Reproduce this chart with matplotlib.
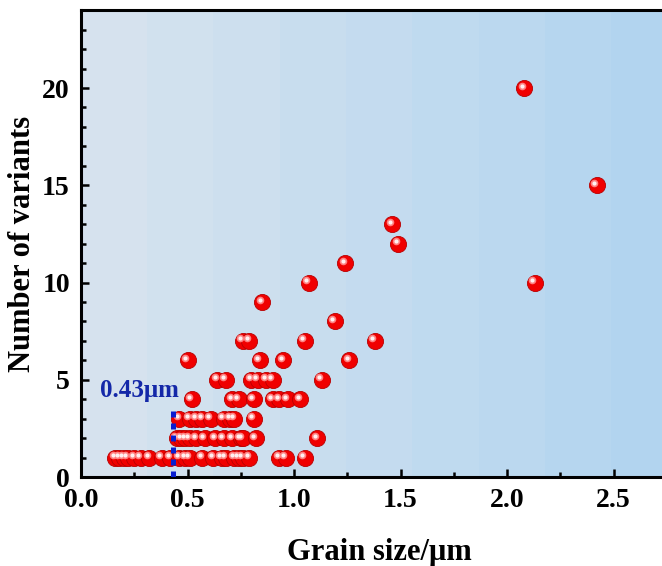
import numpy as np
import matplotlib
matplotlib.use('Agg')
import matplotlib.pyplot as plt
from matplotlib.ticker import MultipleLocator, FixedLocator, FormatStrFormatter
from matplotlib.transforms import offset_copy

# grain size (um) and number of variants
grain_size = [0.16, 0.18, 0.20, 0.22, 0.25, 0.28, 0.32, 0.38, 0.42, 0.46, 0.49, 0.51,
              0.57, 0.62, 0.66, 0.68, 0.72, 0.74, 0.76, 0.79, 0.93, 0.96, 1.05,
              0.45, 0.47, 0.49, 0.51, 0.54, 0.58, 0.63, 0.67, 0.71, 0.75, 0.76, 0.82, 1.11,
              0.46, 0.51, 0.54, 0.57, 0.61, 0.67, 0.70, 0.72, 0.81,
              0.52, 0.71, 0.74, 0.81, 0.90, 0.93, 0.97, 1.03,
              0.64, 0.68, 0.80, 0.83, 0.87, 0.90, 1.13,
              0.50, 0.84, 0.95, 1.26,
              0.76, 0.79, 1.05, 1.38,
              1.19, 0.85, 1.07, 2.13, 1.24, 1.49, 1.46, 2.42, 2.08]
variants = [1, 1, 1, 1, 1, 1, 1, 1, 1, 1, 1, 1,
            1, 1, 1, 1, 1, 1, 1, 1, 1, 1, 1,
            2, 2, 2, 2, 2, 2, 2, 2, 2, 2, 2, 2, 2,
            3, 3, 3, 3, 3, 3, 3, 3, 3,
            4, 4, 4, 4, 4, 4, 4, 4,
            5, 5, 5, 5, 5, 5, 5,
            6, 6, 6, 6,
            7, 7, 7, 7,
            8, 9, 10, 10, 11, 12, 13, 15, 20]

x_ticks = [0.0, 0.5, 1.0, 1.5, 2.0, 2.5]
critical_size = 0.43
critical_label = '0.43μm'

plt.rcParams['font.family'] = ['Liberation Serif', 'DejaVu Serif']
plt.rcParams['font.weight'] = 'bold'

fig = plt.figure(figsize=(6.62, 5.66), dpi=100)
# axes run past the right edge, like the cropped original
ax = fig.add_axes([0.1224, 0.157, 0.901, 0.825])
ax.set_xlim(0, 2.8)
ax.set_ylim(0, 24)

# banded light-blue background
steps = np.linspace(0, 1, 9)
left = np.array([0.84, 0.89, 0.935])
right = np.array([0.70, 0.835, 0.94])
grad = np.array([left + (right - left) * t for t in steps])[np.newaxis, :, :]
ax.imshow(grad, extent=[0, 2.8, 0, 24], aspect='auto', zorder=0, interpolation='nearest')

# red "sphere" markers: base disc plus a small highlight
ax.scatter(grain_size, variants, s=135, color='#f00000', edgecolors='#b80000',
           linewidths=0.6, zorder=3)
hl = offset_copy(ax.transData, fig=fig, x=-1.8, y=1.8, units='points')
ax.scatter(grain_size, variants, s=30, color='#ff8080', linewidths=0, zorder=4, transform=hl)
ax.scatter(grain_size, variants, s=9, color='#fff0f0', linewidths=0, zorder=5, transform=hl)

ax.plot([critical_size, critical_size], [0, 3.6], color='#0a1ed0', lw=3.6,
        linestyle=(0, (1.2, 1.2)), zorder=6)
ax.text(0.09, 4.45, critical_label, color='#1428a8', fontsize=18, fontweight='bold',
        va='center', ha='left', zorder=7)

ax.set_xlabel('Grain size/μm', fontsize=22, fontweight='bold', labelpad=18)
ax.set_ylabel('Number of variants', fontsize=22, fontweight='bold', labelpad=4)

ax.xaxis.set_major_locator(FixedLocator(x_ticks))
ax.xaxis.set_minor_locator(MultipleLocator(0.25))
ax.yaxis.set_major_locator(MultipleLocator(5))
ax.yaxis.set_minor_locator(MultipleLocator(1))
ax.xaxis.set_major_formatter(FormatStrFormatter('%.1f'))
ax.tick_params(which='both', direction='in', width=1.8, labelsize=20, pad=8)
ax.tick_params(which='major', length=6)
ax.tick_params(which='minor', length=3.5)
for lab in ax.get_xticklabels() + ax.get_yticklabels():
    lab.set_fontweight('bold')
for sp in ax.spines.values():
    sp.set_linewidth(2.2)

fig.savefig('out.png', dpi=100)
